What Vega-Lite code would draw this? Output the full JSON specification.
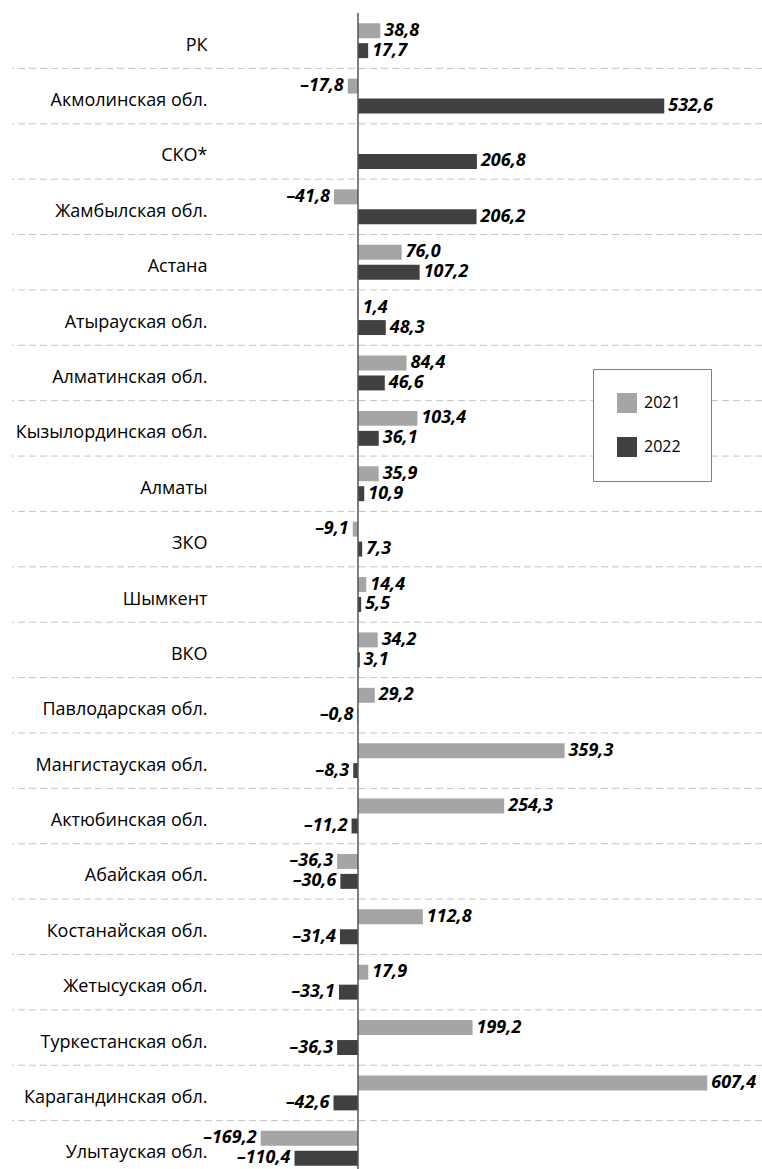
{
  "$schema": "https://vega.github.io/schema/vega-lite/v6.json",
  "width": 750,
  "height": 1156,
  "autosize": {"type": "none"},
  "padding": {"left": 12, "top": 13, "right": 0, "bottom": 0},
  "background": "white",
  "config": {
    "view": {"stroke": null},
    "font": "Open Sans",
    "locale": {"number": {"decimal": ",", "thousands": " ", "grouping": [3], "currency": ["", ""], "minus": "–"}}
  },
  "data": {"values": [
    {"region": "РК", "year": "2021", "value": 38.8},
    {"region": "РК", "year": "2022", "value": 17.7},
    {"region": "Акмолинская обл.", "year": "2021", "value": -17.8},
    {"region": "Акмолинская обл.", "year": "2022", "value": 532.6},
    {"region": "СКО*", "year": "2022", "value": 206.8},
    {"region": "Жамбылская обл.", "year": "2021", "value": -41.8},
    {"region": "Жамбылская обл.", "year": "2022", "value": 206.2},
    {"region": "Астана", "year": "2021", "value": 76.0},
    {"region": "Астана", "year": "2022", "value": 107.2},
    {"region": "Атырауская обл.", "year": "2021", "value": 1.4},
    {"region": "Атырауская обл.", "year": "2022", "value": 48.3},
    {"region": "Алматинская обл.", "year": "2021", "value": 84.4},
    {"region": "Алматинская обл.", "year": "2022", "value": 46.6},
    {"region": "Кызылординская обл.", "year": "2021", "value": 103.4},
    {"region": "Кызылординская обл.", "year": "2022", "value": 36.1},
    {"region": "Алматы", "year": "2021", "value": 35.9},
    {"region": "Алматы", "year": "2022", "value": 10.9},
    {"region": "ЗКО", "year": "2021", "value": -9.1},
    {"region": "ЗКО", "year": "2022", "value": 7.3},
    {"region": "Шымкент", "year": "2021", "value": 14.4},
    {"region": "Шымкент", "year": "2022", "value": 5.5},
    {"region": "ВКО", "year": "2021", "value": 34.2},
    {"region": "ВКО", "year": "2022", "value": 3.1},
    {"region": "Павлодарская обл.", "year": "2021", "value": 29.2},
    {"region": "Павлодарская обл.", "year": "2022", "value": -0.8},
    {"region": "Мангистауская обл.", "year": "2021", "value": 359.3},
    {"region": "Мангистауская обл.", "year": "2022", "value": -8.3},
    {"region": "Актюбинская обл.", "year": "2021", "value": 254.3},
    {"region": "Актюбинская обл.", "year": "2022", "value": -11.2},
    {"region": "Абайская обл.", "year": "2021", "value": -36.3},
    {"region": "Абайская обл.", "year": "2022", "value": -30.6},
    {"region": "Костанайская обл.", "year": "2021", "value": 112.8},
    {"region": "Костанайская обл.", "year": "2022", "value": -31.4},
    {"region": "Жетысуская обл.", "year": "2021", "value": 17.9},
    {"region": "Жетысуская обл.", "year": "2022", "value": -33.1},
    {"region": "Туркестанская обл.", "year": "2021", "value": 199.2},
    {"region": "Туркестанская обл.", "year": "2022", "value": -36.3},
    {"region": "Карагандинская обл.", "year": "2021", "value": 607.4},
    {"region": "Карагандинская обл.", "year": "2022", "value": -42.6},
    {"region": "Улытауская обл.", "year": "2021", "value": -169.2},
    {"region": "Улытауская обл.", "year": "2022", "value": -110.4}
  ]},
  "layer": [
    {
      "transform": [{"filter": "datum.year == '2022'"}],
      "mark": {"type": "rule", "color": "#c4c4c4", "strokeWidth": 1, "strokeDash": [7, 4]},
      "encoding": {
        "y": {"field": "region", "type": "nominal", "sort": null, "bandPosition": 1.2937}
      }
    },
    {
      "mark": {"type": "bar"},
      "encoding": {
        "y": {
          "field": "region", "type": "nominal", "sort": null,
          "scale": {"range": [0, 1163], "paddingInner": 0.37, "paddingOuter": 0.185},
          "axis": {
            "title": null, "domain": false, "ticks": false, "grid": false,
            "offset": -195, "labelPadding": 0, "labelAlign": "right", "labelBaseline": "middle",
            "labelFont": "Open Sans", "labelFontSize": 18, "labelColor": "#000000",
            "labelOffset": 5, "labelLimit": 400
          }
        },
        "x": {
          "field": "value", "type": "quantitative",
          "scale": {"domain": [-601.7, 702.6], "nice": false, "zero": false},
          "axis": null
        },
        "yOffset": {"field": "year", "type": "nominal", "scale": {"paddingInner": 0.25, "paddingOuter": 0}},
        "color": {
          "field": "year", "type": "nominal",
          "scale": {"domain": ["2021", "2022"], "range": ["#A5A5A5", "#404040"]},
          "legend": {
            "orient": "none", "legendX": 581, "legendY": 356,
            "title": " ", "titleOrient": "right", "titlePadding": 6, "titleFontSize": 16,
            "symbolType": "square", "symbolSize": 400, "symbolStrokeWidth": 0,
            "labelFont": "Open Sans", "labelFontSize": 16, "labelColor": "#000000", "labelOffset": 7,
            "rowPadding": 24, "padding": 24, "strokeColor": "#7f7f7f", "fillColor": "#ffffff"
          }
        }
      }
    },
    {
      "transform": [{"filter": "datum.value >= 0"}],
      "mark": {"type": "text", "align": "left", "baseline": "middle", "dx": 4, "fontSize": 18, "fontWeight": "bold", "fontStyle": "italic", "color": "#000000"},
      "encoding": {
        "y": {"field": "region", "type": "nominal", "sort": null},
        "x": {"field": "value", "type": "quantitative"},
        "yOffset": {"field": "year", "type": "nominal"},
        "text": {"field": "value", "type": "quantitative", "format": ".1f"}
      }
    },
    {
      "transform": [{"filter": "datum.value < 0"}],
      "mark": {"type": "text", "align": "right", "baseline": "middle", "dx": -4, "fontSize": 18, "fontWeight": "bold", "fontStyle": "italic", "color": "#000000"},
      "encoding": {
        "y": {"field": "region", "type": "nominal", "sort": null},
        "x": {"field": "value", "type": "quantitative"},
        "yOffset": {"field": "year", "type": "nominal"},
        "text": {"field": "value", "type": "quantitative", "format": ".1f"}
      }
    },
    {
      "data": {"values": [{"zero": 0}]},
      "mark": {"type": "rule", "color": "#555555", "strokeWidth": 1.5},
      "encoding": {
        "x": {"field": "zero", "type": "quantitative"}
      }
    }
  ]
}
